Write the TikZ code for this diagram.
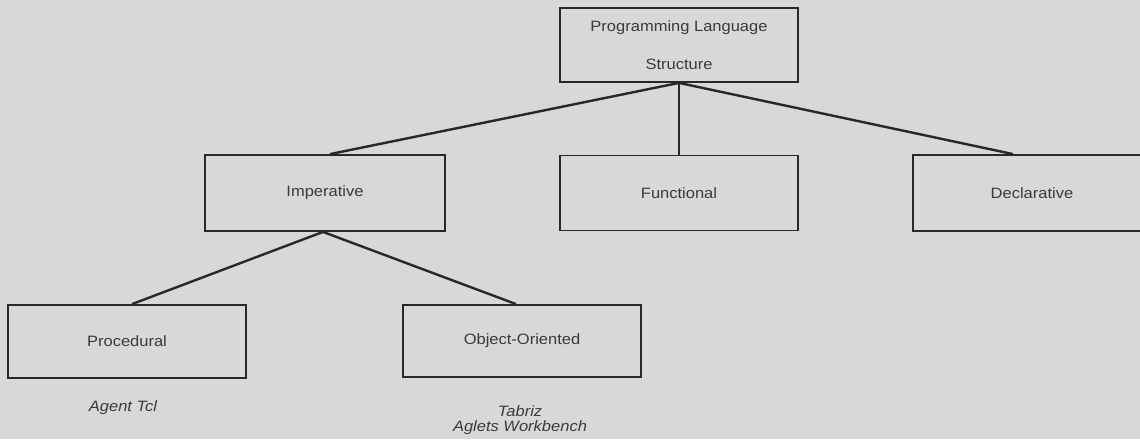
\documentclass[tikz,border=0pt]{standalone}
\usepackage{fontspec}
\setmainfont{Liberation Sans}[FakeStretch=1.1]
\definecolor{paper}{RGB}{216,216,214}
\definecolor{ink}{RGB}{40,40,40}
\definecolor{label}{RGB}{58,58,58}
\tikzset{
  catbox/.style={draw=ink, line width=1.8pt, fill=paper, minimum width=238pt,
                 minimum height=74pt, inner sep=0pt, text=label,
                 font=\fontsize{15}{18}\selectfont},
  branch/.style={draw=ink, line width=2.4pt},
  example/.style={text=label, inner sep=0pt, align=center,
                  font=\fontsize{15}{14.5}\selectfont\itshape}
}
\begin{document}
\begin{tikzpicture}[x=1pt, y=-1pt]
  \clip (0,0) rectangle (1140,439);
  \useasboundingbox (0,0) rectangle (1140,439);
  \fill[paper] (0,0) rectangle (1140,439);

  % root of the hierarchy
  \node[catbox, align=center, font=\fontsize{15}{38}\selectfont]
    (root) at (679,45) {Programming Language\\Structure};

  % second level
  \node[catbox, minimum width=240pt, minimum height=76pt] (imp) at (325,193) {Imperative};
  \node[catbox, minimum height=75pt] (fun) at (679,193) {Functional};
  \node[catbox, minimum height=76pt] (decl) at (1032,193) {Declarative};

  % third level
  \node[catbox, minimum height=73pt] (proc) at (127,341.5) {Procedural};
  \node[catbox, minimum height=72pt] (oo) at (522,341) {Object-Oriented};

  % example systems
  \node[example] (tcl) at (123,408) {Agent Tcl};
  \node[example] (tab) at (520,420) {Tabriz\\Aglets Workbench};

  % connectors
  \draw[branch] (root.south) -- ([xshift=5pt]imp.north);
  \draw[branch] (root.south) -- (fun.north);
  \draw[branch] (root.south) -- ([xshift=-19pt]decl.north);
  \draw[branch] ([xshift=-2pt]imp.south) -- ([xshift=5pt]proc.north);
  \draw[branch] ([xshift=-2pt]imp.south) -- ([xshift=-6pt]oo.north);
\end{tikzpicture}
\end{document}
